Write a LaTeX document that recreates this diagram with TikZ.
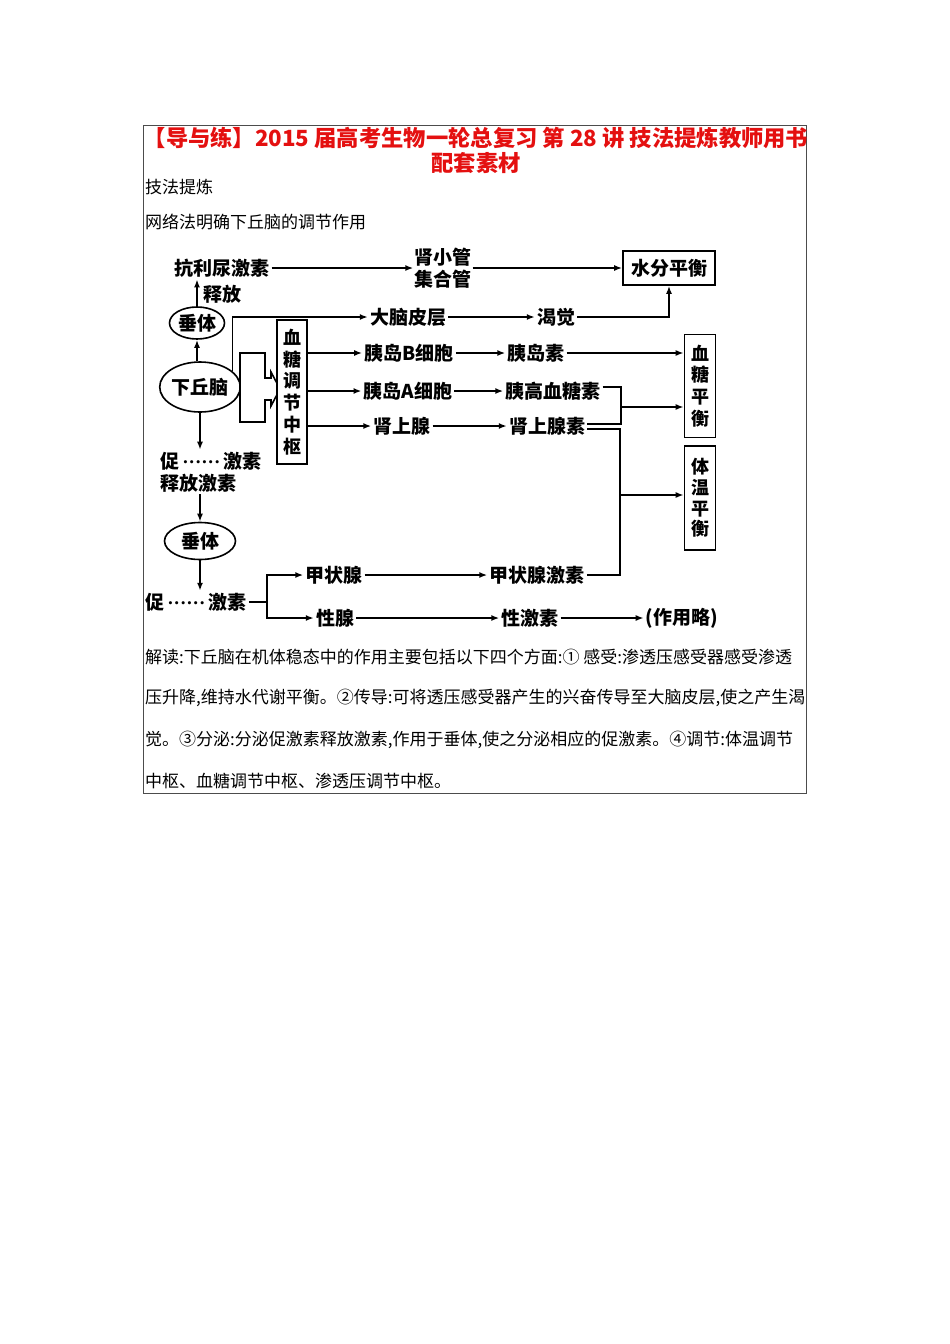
\documentclass[tikz,border=0pt]{standalone}
\usepackage{fontspec}
\setmainfont{Noto Sans CJK SC}
\newfontfamily\dotfont{Liberation Serif}
\usetikzlibrary{arrows.meta}
\usetikzlibrary{shapes.geometric}
\definecolor{titlered}{RGB}{228,16,16}
\newcommand{\middots}{{\dotfont\bfseries\,······\,}}

\tikzset{
    title/.style={text=titlered, font=\fontsize{22.3}{25}\selectfont\bfseries, inner sep=0pt},
    para/.style={anchor=west, font=\fontsize{17}{20}\selectfont, inner sep=0pt},
    lbl/.style={font=\fontsize{19}{22}\selectfont\bfseries, inner sep=2pt},
    vbox/.style={draw, line width=1.6pt, fill=white, align=center, inner sep=0pt,
        font=\fontsize{18}{21.7}\selectfont\bfseries},
    oval/.style={ellipse, draw, line width=1.6pt, inner sep=0pt,
        font=\fontsize{19}{22}\selectfont\bfseries},
    ln/.style={line width=1.6pt},
    arr/.style={ln, -{Latex[length=8pt,width=6pt]}},
}

\begin{document}
\begin{tikzpicture}[x=1pt,y=-1pt]
    \useasboundingbox (0,0) rectangle (950,1344);
    \draw[line width=0.8pt, black!70] (143,125) rectangle (806,793);

    \node[title] (t1) at (476,138){【导与练】2015 届高考生物一轮总复习 第 28 讲 技法提炼教师用书};
    \node[title] (t2) at (476,163){配套素材};
    \node[para] (h1) at (145,187){技法提炼};
    \node[para] (h2) at (145,222){网络法明确下丘脑的调节作用};

    % water balance
    \node[lbl] (kdn) at (222,268){抗利尿激素};
    \node[lbl] (sf) at (222,294){释放};
    \node[lbl, align=center, inner sep=1pt] (sxg) at (443,268){肾小管\\集合管};
    \node[vbox, minimum width=92pt, minimum height=34pt,
        font=\fontsize{19}{22}\selectfont\bfseries] (sfph) at (669,268){水分平衡};
    \node[oval, minimum width=55pt, minimum height=32pt] (cz1) at (197,323){垂体};
    \node[oval, minimum width=76pt, minimum height=50pt] (xqn) at (200,387){下丘脑};
    \node[lbl] (dnpc) at (408,317){大脑皮层};
    \node[lbl] (kj) at (556,317){渴觉};

    \draw[arr] (cz1) -- (cz1 |- kdn.south);
    \draw[arr] (xqn.north -| cz1) -- (cz1.south);
    \draw[arr] (kdn) -- (sxg);
    \draw[arr] (sxg) -- (sfph);
    \draw[arr] (xqn.26) |- (dnpc);
    \draw[arr] (dnpc) -- (kj);
    \draw[arr] (kj) -| (sfph);

    % blood sugar
    \draw[ln, fill=white] (240,353) -- (265,353) -- (265,378) -- (271,378) -- (271,372)
        -- (280,389) -- (271,406) -- (271,400) -- (265,400) -- (265,422) -- (240,422) -- cycle;
    \node[vbox, minimum width=30pt, minimum height=144pt] (xtzs) at (292,392){血\\糖\\调\\节\\中\\枢};
    \node[lbl] (ydb) at (409,353){胰岛B细胞};
    \node[lbl] (yda) at (408,391){胰岛A细胞};
    \node[lbl] (ssx) at (402,426){肾上腺};
    \node[lbl] (yds) at (536,353){胰岛素};
    \node[lbl] (ygxts) at (553,391){胰高血糖素};
    \node[lbl] (ssxs) at (547,426){肾上腺素};
    \node[vbox, minimum width=31pt, minimum height=103pt] (xtph) at (700,386){血\\糖\\平\\衡};
    \node[vbox, minimum width=31pt, minimum height=104pt,
        font=\fontsize{18}{20.7}\selectfont\bfseries] (twph) at (700,498){体\\温\\平\\衡};
    \coordinate (j1) at (621,407);
    \coordinate (j2) at (620,495);

    \draw[arr] (xtzs.east |- ydb) -- (ydb);
    \draw[arr] (xtzs.east |- yda) -- (yda);
    \draw[arr] (xtzs.east |- ssx) -- (ssx);
    \draw[arr] (ydb) -- (yds);
    \draw[arr] (yda) -- (ygxts);
    \draw[arr] (ssx) -- (ssxs);
    \draw[arr] (yds) -- (xtph.west |- yds);
    \draw[ln] ([yshift=4pt]ygxts.east) -| (j1) |- ([yshift=2pt]ssxs.east);
    \draw[arr] (j1) -- (xtph.west |- j1);

    % hormones
    \node[lbl, align=left, anchor=west] (cjs1) at (158,472){促\middots 激素\\释放激素};
    \node[oval, minimum width=71pt, minimum height=37pt] (cz2) at (200,541){垂体};
    \node[lbl, anchor=west] (cjs2) at (143,602){促\middots 激素};
    \node[lbl] (jzx) at (334,575){甲状腺};
    \node[lbl] (xx) at (335,618){性腺};
    \node[lbl] (jzxs) at (537,575){甲状腺激素};
    \node[lbl] (xjs) at (530,618){性激素};
    \node[lbl] (zyl) at (682,618){(作用略)};
    \coordinate (b2) at (267,602);

    \draw[arr] (xqn.south) -- (xqn.south |- cjs1.north);
    \draw[arr] (cz2 |- cjs1.south) -- (cz2);
    \draw[arr] (cz2) -- (cz2 |- cjs2.north);
    \draw[ln] (cjs2) -- (b2);
    \draw[arr] (b2) |- (jzx);
    \draw[arr] (b2) |- (xx);
    \draw[arr] (jzx) -- (jzxs);
    \draw[arr] (xx) -- (xjs);
    \draw[arr] (xjs) -- (zyl);
    \draw[ln] ([yshift=-3pt]ssxs.east) -| (j2) |- (jzxs);
    \draw[arr] (j2) -- (twph.west |- j2);

    \node[para] (p1) at (145,657){解读:下丘脑在机体稳态中的作用主要包括以下四个方面:① 感受:渗透压感受器感受渗透};
    \node[para] (p2) at (145,698){压升降,维持水代谢平衡。②传导:可将透压感受器产生的兴奋传导至大脑皮层,使之产生渴};
    \node[para] (p3) at (145,740){觉。③分泌:分泌促激素释放激素,作用于垂体,使之分泌相应的促激素。④调节:体温调节};
    \node[para] (p4) at (145,781){中枢、血糖调节中枢、渗透压调节中枢。};
\end{tikzpicture}
\end{document}
